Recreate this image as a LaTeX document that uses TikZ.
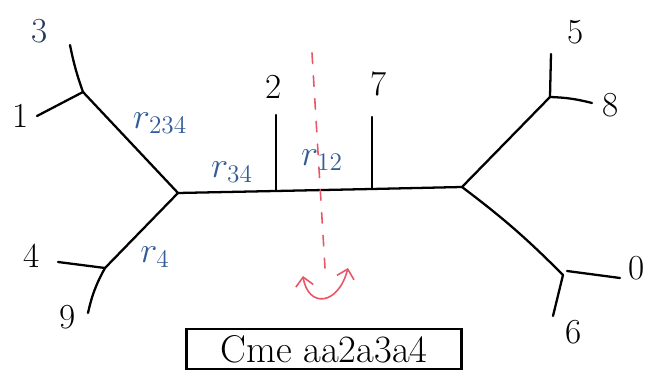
\documentclass[tikz,border=0pt]{standalone}
\usetikzlibrary{arrows.meta}
\definecolor{inkblue}{RGB}{52,92,150}
\definecolor{inknavy}{RGB}{35,55,90}
\definecolor{inkred}{RGB}{232,86,104}
\begin{document}
\begin{tikzpicture}[x = 0.02cm, y = -0.02cm, line width = 1.3pt, line cap = round,
		leaf/.style = {font = \fontsize{20}{24}\selectfont},
		brlen/.style = {inkblue, font = \fontsize{20}{24}\selectfont}]
		\useasboundingbox (0,0) rectangle (654,381);
		% inner vertices
		\coordinate (L) at (178,193);
		\coordinate (R) at (462,187);
		\coordinate (A) at (83,92);
		\coordinate (B) at (105,268);
		\coordinate (C) at (550,97);
		\coordinate (D) at (563,275);
		\coordinate (m2) at (276,191);
		\coordinate (m7) at (372,189);
		% leaf ends
		\coordinate (e3) at (70,45);
		\coordinate (e1) at (37,116);
		\coordinate (e4) at (58,262);
		\coordinate (e9) at (88,313);
		\coordinate (e2) at (276,115);
		\coordinate (e7) at (372,117);
		\coordinate (e5) at (551,54);
		\coordinate (e8) at (592,103);
		\coordinate (e6) at (553,316);
		\coordinate (s0) at (567,271);
		\coordinate (e0) at (620,278);
		% tree
		\draw (L) -- (m2) -- (m7) -- (R);
		\draw (L) -- (A);
		\draw (A) to [bend left = 4] (e3);
		\draw (A) -- (e1);
		\draw (L) -- (B);
		\draw (B) -- (e4);
		\draw (B) to [bend right = 8] (e9);
		\draw (m2) -- (e2);
		\draw (m7) -- (e7);
		\draw (R) -- (C);
		\draw (C) -- (e5);
		\draw (C) to [bend left = 6] (e8);
		\draw (R) to [bend left = 4] (D);
		\draw (D) -- (e6);
		\draw (s0) -- (e0);
		% leaf labels
		\node [leaf, inknavy] (n3) at (40,31) {3};
		\node [leaf] (n1) at (21,116) {1};
		\node [leaf] (n4) at (32,256) {4};
		\node [leaf] (n9) at (68,317) {9};
		\node [leaf] (n2) at (274,87) {2};
		\node [leaf] (n7) at (379,84) {7};
		\node [leaf] (n5) at (576,32) {5};
		\node [leaf] (n8) at (611,105) {8};
		\node [leaf] (n0) at (637,268) {0};
		\node [leaf] (n6) at (574,332) {6};
		% branch lengths
		\node [brlen] (r234) at (160,123) {$r_{234}$};
		\node [brlen] (r34) at (232,172) {$r_{34}$};
		\node [brlen] (r12) at (322,160) {$r_{12}$};
		\node [brlen] (r4) at (155,257) {$r_{4}$};
		% cut and rotation
		\coordinate (cutT) at (312,53);
		\coordinate (cutB) at (325,268);
		\coordinate (rotL) at (303,276);
		\coordinate (rotR) at (348,268);
		\draw [inkred, line width = 0.9pt, dashed, dash pattern = on 6pt off 7pt] (cutT) -- (cutB);
		\draw [inkred, line width = 0.9pt, {Straight Barb[length=5pt]}-{Straight Barb[length=5pt]}] (rotL) .. controls (308,308) and (338,306) .. (rotR);
		% caption
		\node [draw, line width = 1.3pt, minimum width = 5.5cm, minimum height = 0.8cm,
			font = \fontsize{22}{26}\selectfont] (cap) at (324,349) {Cme aa2a3a4};
	\end{tikzpicture}
\end{document}
